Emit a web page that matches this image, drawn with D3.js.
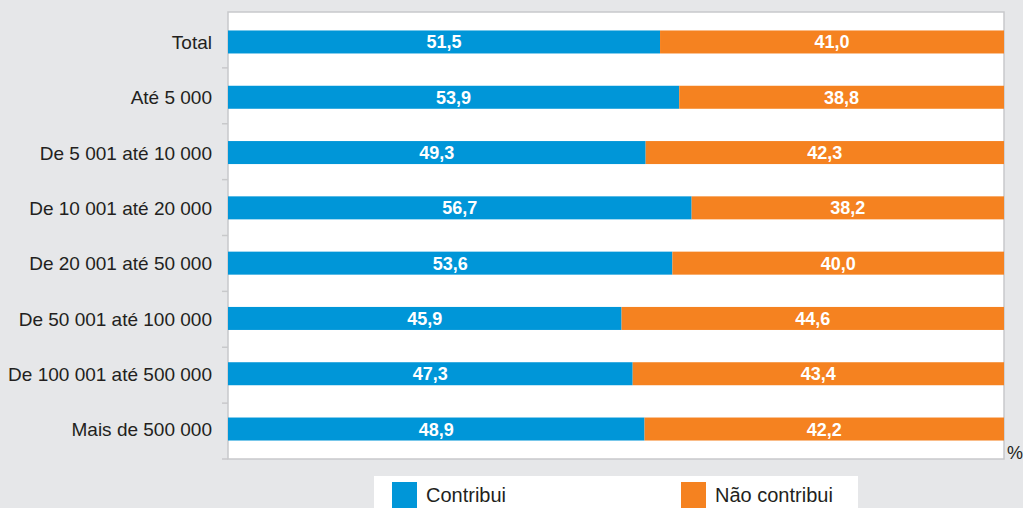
<!DOCTYPE html>
<html>
<head>
<meta charset="utf-8">
<script src="https://cdn.jsdelivr.net/npm/d3@7"></script>
<style>
  html, body { margin: 0; padding: 0; background: #e6e7e9; }
  svg { display: block; font-family: "Liberation Sans", Arial, sans-serif; }
  .cat { font-size: 19px; fill: #231f20; }
  .val { font-size: 18px; font-weight: bold; fill: #fff; }
  .leg { font-size: 20px; fill: #231f20; }
</style>
</head>
<body>
<div id="chart"></div>
<script>
const categories = ["Total", "Até 5 000", "De 5 001 até 10 000", "De 10 001 até 20 000", "De 20 001 até 50 000", "De 50 001 até 100 000", "De 100 001 até 500 000", "Mais de 500 000"];
const contribui = [51.5, 53.9, 49.3, 56.7, 53.6, 45.9, 47.3, 48.9];
const naoContribui = [41.0, 38.8, 42.3, 38.2, 40.0, 44.6, 43.4, 42.2];
const seriesNames = ["Contribui", "Não contribui"];
const colors = ["#0096d8", "#f58220"];

const W = 1023, H = 508;
const m = { top: 12, left: 228, right: 19, bottom: 49 };
const svg = d3.select("#chart").append("svg").attr("width", W).attr("height", H);

const rows = categories.map((c, i) => {
  const tot = contribui[i] + naoContribui[i];
  return { cat: c, a: contribui[i], b: naoContribui[i], pa: contribui[i] / tot * 100 };
});

const x = d3.scaleLinear().domain([0, 100]).range([m.left, W - m.right]);
const y = d3.scaleBand().domain(categories).range([m.top, H - m.bottom]).paddingInner(0.584).paddingOuter(0.334);

// plot frame
svg.append("rect").attr("x", m.left).attr("y", m.top).attr("width", W - m.right - m.left).attr("height", H - m.bottom - m.top)
  .attr("fill", "#fff").attr("stroke", "#c8c9cb").attr("stroke-width", 1.5);

// ticks between categories on left axis
const tickYs = d3.range(1, categories.length + 1).map(i => m.top + i * (H - m.bottom - m.top) / categories.length);
svg.selectAll("line.tk").data(tickYs).join("line").attr("class", "tk")
  .attr("x1", m.left - 6).attr("x2", m.left).attr("y1", d => d).attr("y2", d => d)
  .attr("stroke", "#c8c9cb").attr("stroke-width", 1.5);

const g = svg.selectAll("g.row").data(rows).join("g").attr("class", "row");
g.append("rect").attr("x", x(0)).attr("y", d => y(d.cat)).attr("width", d => x(d.pa) - x(0)).attr("height", y.bandwidth()).attr("fill", colors[0]);
g.append("rect").attr("x", d => x(d.pa)).attr("y", d => y(d.cat)).attr("width", d => x(100) - x(d.pa)).attr("height", y.bandwidth()).attr("fill", colors[1]);
const fmt = v => v.toFixed(1).replace(".", ",");
g.append("text").attr("class", "val").attr("text-anchor", "middle").attr("dy", "0.36em")
  .attr("x", d => (x(0) + x(d.pa)) / 2).attr("y", d => y(d.cat) + y.bandwidth() / 2).text(d => fmt(d.a));
g.append("text").attr("class", "val").attr("text-anchor", "middle").attr("dy", "0.36em")
  .attr("x", d => (x(d.pa) + x(100)) / 2).attr("y", d => y(d.cat) + y.bandwidth() / 2).text(d => fmt(d.b));
g.append("text").attr("class", "cat").attr("text-anchor", "end").attr("dy", "0.38em")
  .attr("x", m.left - 16).attr("y", d => y(d.cat) + y.bandwidth() / 2).text(d => d.cat);

svg.append("text").attr("class", "cat").style("font-size", "18px").attr("x", 1007).attr("y", 459).text("%");

// legend
const lg = svg.append("g");
lg.append("rect").attr("x", 374).attr("y", 476).attr("width", 484).attr("height", 40).attr("fill", "#fff");
const lx = [392, 681];
seriesNames.forEach((s, i) => {
  lg.append("rect").attr("x", lx[i]).attr("y", 482).attr("width", 25).attr("height", 26).attr("fill", colors[i]);
  lg.append("text").attr("class", "leg").attr("x", lx[i] + 34).attr("y", 502).text(s);
});
</script>
</body>
</html>
